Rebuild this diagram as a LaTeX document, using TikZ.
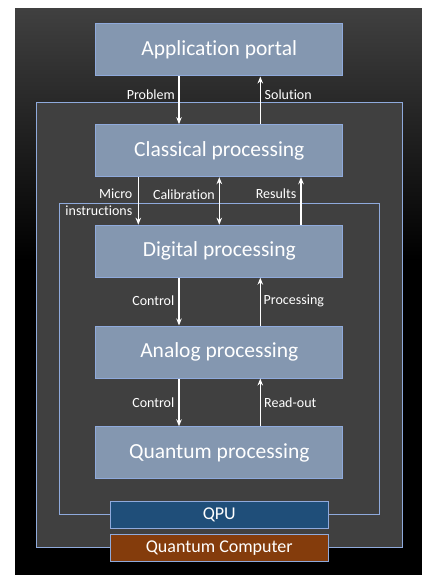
\documentclass[tikz,border=0pt]{standalone}
\usepackage{fontspec}
\setmainfont[Ligatures=NoCommon]{Carlito}
\usetikzlibrary{arrows.meta}
\definecolor{boxfill}{HTML}{8497B0}
\definecolor{edge}{HTML}{8FAADC}
\definecolor{panel}{HTML}{404040}
\definecolor{qpufill}{HTML}{1F4E79}
\definecolor{qcfill}{HTML}{843C0C}
\tikzset{
  layer/.style={draw=edge, line width=1pt, fill=boxfill, text=white,
    font=\fontsize{21.5}{24}\selectfont, inner sep=0pt},
  frame/.style={draw=edge, line width=0.8pt, fill=panel},
  tag/.style={draw=edge, line width=0.8pt, text=white,
    font=\fontsize{18}{20}\selectfont, inner sep=0pt},
  flow/.style={draw=white, line width=1.4pt, -{Stealth[length=7pt,width=5.5pt]}},
  both/.style={draw=white, line width=1.4pt, {Stealth[length=7pt,width=5.5pt]}-{Stealth[length=7pt,width=5.5pt]}},
  lbl/.style={text=white, font=\fontsize{14}{15}\selectfont, inner sep=0pt}
}
\begin{document}
\begin{tikzpicture}[x=1pt,y=-1pt]
  \useasboundingbox (0,0) rectangle (422,575);
  % backdrop: white page with a dark slide fading to black
  \fill[white] (0,0) rectangle (422,575);
  \fill[black] (15,9) rectangle (422,575);
  \shade[top color=panel, bottom color=black] (15,9) rectangle (422,260);

  % nested system frames
  \draw[frame] (36.7,102.7) rectangle (402.7,547.7);
  \draw[frame] (59.3,203.3) rectangle (379.3,514.7);

  % frame tags
  \node[tag, fill=qcfill, minimum width=218.7pt, minimum height=27.4pt] (qc) at (219.3,548) {Quantum Computer};
  \node[tag, fill=qpufill, minimum width=218.7pt, minimum height=27.4pt] (qpu) at (219.3,515) {QPU};

  % processing layers
  \node[layer, minimum width=246.7pt, minimum height=52pt] (app) at (219.3,50) {Application portal};
  \node[layer, minimum width=246.7pt, minimum height=52pt] (cls) at (219.3,150.7) {Classical processing};
  \node[layer, minimum width=246.7pt, minimum height=52pt] (dig) at (219.3,251.2) {Digital processing};
  \node[layer, minimum width=246.7pt, minimum height=52pt] (ana) at (219.3,352) {Analog processing};
  \node[layer, minimum width=246.7pt, minimum height=52pt] (qp) at (219.3,452.8) {Quantum processing};

  % connectors between layers
  \draw[flow] (app.south -| 179,0) -- (cls.north -| 179,0);
  \draw[flow] (cls.north -| 260.3,0) -- (app.south -| 260.3,0);
  \draw[flow] (cls.south -| 138.3,0) -- (dig.north -| 138.3,0);
  \draw[both] (cls.south -| 219.3,0) -- (dig.north -| 219.3,0);
  \draw[flow] (dig.north -| 301,0) -- (cls.south -| 301,0);
  \draw[flow] (dig.south -| 179,0) -- (ana.north -| 179,0);
  \draw[flow] (ana.north -| 260.3,0) -- (dig.south -| 260.3,0);
  \draw[flow] (ana.south -| 179,0) -- (qp.north -| 179,0);
  \draw[flow] (qp.north -| 260.3,0) -- (ana.south -| 260.3,0);

  % connector labels
  \node[lbl, anchor=east] (lproblem) at (175,94.5) {Problem};
  \node[lbl, anchor=west] (lsolution) at (264.5,94.5) {Solution};
  \node[lbl, anchor=east] (lmicro) at (132.5,194) {Micro};
  \node[lbl, anchor=east] (linstr) at (132.5,211) {instructions};
  \node[lbl, anchor=east] (lcalib) at (215,194.5) {Calibration};
  \node[lbl, anchor=east] (lresults) at (296.5,194) {Results};
  \node[lbl, anchor=east] (lcontrol1) at (174.5,301) {Control};
  \node[lbl, anchor=west] (lprocessing) at (263.5,301) {Processing};
  \node[lbl, anchor=east] (lcontrol2) at (174.5,402.5) {Control};
  \node[lbl, anchor=west] (lreadout) at (264,402.5) {Read-out};
\end{tikzpicture}
\end{document}
